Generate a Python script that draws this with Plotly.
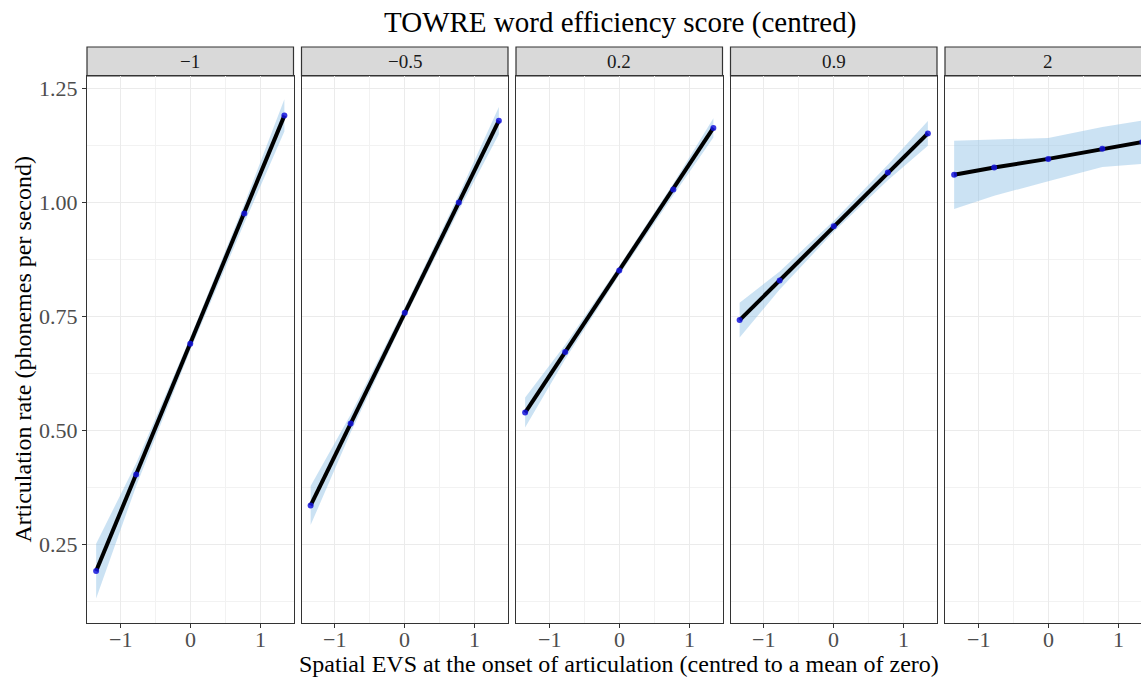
import plotly.graph_objects as go

# ---- data ----
facet_labels = ["\u22121", "\u22120.5", "0.2", "0.9", "2"]
evs_x = [-1.34, -0.77, 0.0, 0.77, 1.34]

rate_fit = [
    [0.191, 0.403, 0.690, 0.976, 1.191],
    [0.335, 0.515, 0.758, 1.000, 1.180],
    [0.539, 0.672, 0.851, 1.029, 1.164],
    [0.742, 0.829, 0.948, 1.066, 1.152],
    [1.061, 1.077, 1.096, 1.118, 1.133],
]
rate_lower = [
    [0.131, 0.378, 0.676, 0.955, 1.156],
    [0.292, 0.495, 0.746, 0.983, 1.150],
    [0.506, 0.656, 0.841, 1.016, 1.143],
    [0.704, 0.809, 0.936, 1.049, 1.125],
    [0.986, 1.015, 1.047, 1.078, 1.085],
]
rate_upper = [
    [0.251, 0.428, 0.704, 0.997, 1.227],
    [0.378, 0.535, 0.770, 1.017, 1.210],
    [0.572, 0.688, 0.861, 1.042, 1.185],
    [0.780, 0.849, 0.960, 1.083, 1.179],
    [1.136, 1.139, 1.142, 1.166, 1.180],
]

x_major = [-1, 0, 1]
x_major_text = ["\u22121", "0", "1"]
y_major = [0.25, 0.50, 0.75, 1.00, 1.25]
y_major_text = ["0.25", "0.50", "0.75", "1.00", "1.25"]

# ---- layout geometry (pixels) ----
W, H = 1141, 679
ML, MR, MT, MB = 87, 0, 47, 56
PW = W - ML - MR
PH = H - MT - MB
panel_step = 214.5
panel_w = 206.5
strip_h = 29
xr = [-1.47, 1.47]
yr = [0.077, 1.278]

FONT = "Liberation Serif, Times New Roman, DejaVu Serif, serif"
DARK = "#333333"

fig = go.Figure()
shapes = []
annotations = []

y_top = (PH - strip_h) / PH

for i in range(5):
    xa = "x" if i == 0 else f"x{i+1}"
    ya = "y" if i == 0 else f"y{i+1}"
    x0 = i * panel_step / PW
    x1 = min((i * panel_step + panel_w) / PW, 1.0)
    vis_frac = (x1 - x0) * PW / panel_w
    rng = [xr[0], xr[0] + (xr[1] - xr[0]) * vis_frac]

    # ribbon
    fig.add_trace(go.Scatter(
        x=evs_x + evs_x[::-1],
        y=rate_upper[i] + rate_lower[i][::-1],
        fill="toself", fillcolor="rgba(140,190,228,0.45)",
        line=dict(width=0), mode="lines", hoverinfo="skip",
        showlegend=False, xaxis=xa, yaxis=ya))
    # line
    fig.add_trace(go.Scatter(
        x=evs_x, y=rate_fit[i], mode="lines",
        line=dict(color="black", width=4), showlegend=False,
        xaxis=xa, yaxis=ya))
    # points
    fig.add_trace(go.Scatter(
        x=evs_x, y=rate_fit[i], mode="markers",
        marker=dict(color="rgba(20,20,220,0.85)", size=6),
        showlegend=False, xaxis=xa, yaxis=ya))

    xkey = "xaxis" if i == 0 else f"xaxis{i+1}"
    ykey = "yaxis" if i == 0 else f"yaxis{i+1}"
    fig.layout[xkey] = dict(
        domain=[x0, x1], range=rng, anchor=ya,
        tickmode="array", tickvals=x_major, ticktext=x_major_text,
        showticklabels=False,
        ticks="outside", ticklen=4, tickcolor=DARK, tickwidth=1,
        showline=True, linecolor=DARK, linewidth=1.2, mirror=True,
        showgrid=True, gridcolor="#EBEBEB", gridwidth=1.2,
        minor=dict(tickmode="array", tickvals=[-1.5, -0.5, 0.5, 1.5],
                   showgrid=True, gridcolor="#F2F2F2", gridwidth=0.8, ticks=""),
        zeroline=False, fixedrange=True)
    fig.layout[ykey] = dict(
        domain=[0, y_top], range=yr, anchor=xa,
        tickmode="array", tickvals=y_major, ticktext=y_major_text,
        ticks="outside" if i == 0 else "", ticklen=4, tickcolor=DARK, tickwidth=1,
        showticklabels=(i == 0),
        showline=True, linecolor=DARK, linewidth=1.2, mirror=(i < 4),
        showgrid=True, gridcolor="#EBEBEB", gridwidth=1.2,
        minor=dict(tickmode="array",
                   tickvals=[0.125, 0.375, 0.625, 0.875, 1.125],
                   showgrid=True, gridcolor="#F2F2F2", gridwidth=0.8, ticks=""),
        zeroline=False, tickfont=dict(family=FONT, size=22, color="#4D4D4D"),
        fixedrange=True)

    # x tick labels (placed as text on the axis scale)
    for v, t in zip(x_major, x_major_text):
        if rng[0] <= v <= rng[1]:
            annotations.append(dict(text=t, xref=xa, yref="paper", x=v,
                                    y=-(639 - (MT + PH)) / PH,
                                    showarrow=False, xanchor="center",
                                    yanchor="middle",
                                    font=dict(family=FONT, size=22, color="#4D4D4D")))

    # strip
    sx1 = x1 if i < 4 else 1.02
    shapes.append(dict(type="rect", xref="paper", yref="paper",
                       x0=x0, x1=sx1, y0=y_top, y1=1.0,
                       fillcolor="#D9D9D9", line=dict(color=DARK, width=1.2),
                       layer="below"))
    cx = (i * panel_step + panel_w / 2) / PW
    annotations.append(dict(text=facet_labels[i], xref="paper", yref="paper",
                            x=cx, y=(y_top + 1) / 2, showarrow=False,
                            xanchor="center", yanchor="middle",
                            font=dict(family=FONT, size=19, color="#1A1A1A")))

# titles
annotations.append(dict(text="TOWRE word efficiency score (centred)",
                        xref="paper", yref="paper",
                        x=(620 - ML) / PW, y=1 + 24 / PH,
                        showarrow=False, xanchor="center", yanchor="middle",
                        font=dict(family=FONT, size=29, color="black")))
annotations.append(dict(text="Spatial EVS at the onset of articulation (centred to a mean of zero)",
                        xref="paper", yref="paper",
                        x=(619 - ML) / PW, y=-(664 - (MT + PH)) / PH,
                        showarrow=False, xanchor="center", yanchor="middle",
                        font=dict(family=FONT, size=24, color="black")))
annotations.append(dict(text="Articulation rate (phonemes per second)",
                        xref="paper", yref="paper",
                        x=(22 - ML) / PW, y=(y_top) / 2,
                        showarrow=False, xanchor="center", yanchor="middle",
                        textangle=-90,
                        font=dict(family=FONT, size=24, color="black")))

fig.update_layout(
    width=W, height=H,
    margin=dict(l=ML, r=MR, t=MT, b=MB, pad=0),
    paper_bgcolor="white", plot_bgcolor="white",
    shapes=shapes, annotations=annotations,
    showlegend=False,
)

fig.write_html("out.html", config={"displayModeBar": False})
